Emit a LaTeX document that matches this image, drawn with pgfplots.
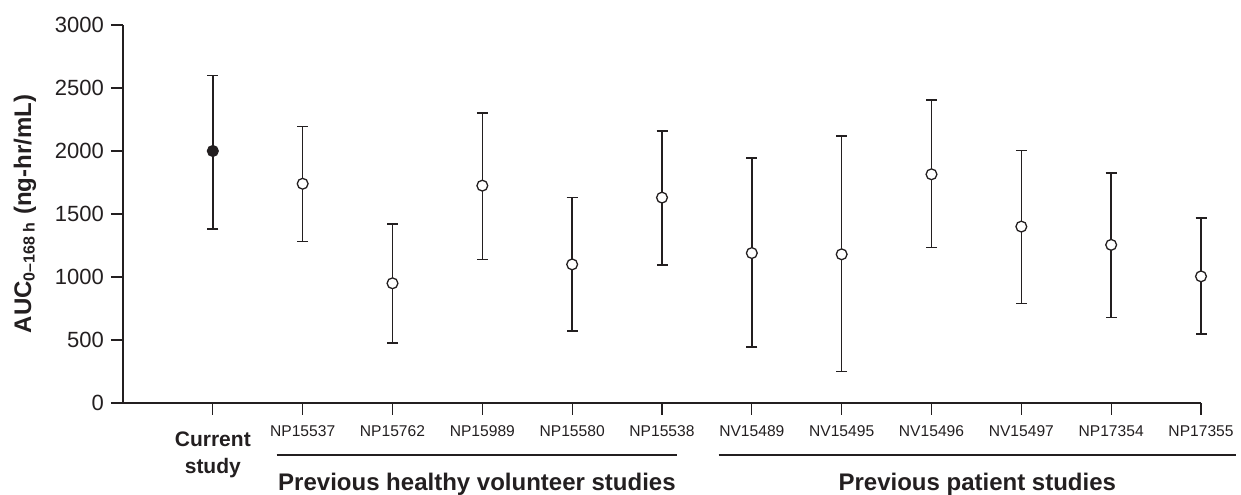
\documentclass[border=0pt]{standalone}
\usepackage{fontspec}
\setmainfont{Liberation Sans}
\usepackage{pgfplots}
\pgfplotsset{compat=1.18}
\usepackage{pgfplotstable}
\definecolor{ink}{HTML}{231F20}
\newcommand{\cur}{\bfseries\fontsize{10.5}{13}\selectfont}

% x, mean, upper, lower
\pgfplotstableread{
x y hi lo
0 2000 2600 1380
}\current
\pgfplotstableread{
x y hi lo
1 1740 2195 1280
2 950 1420 475
3 1725 2300 1140
4 1100 1630 570
5 1630 2160 1095
6 1190 1945 445
7 1180 2120 250
8 1815 2405 1235
9 1400 2005 790
10 1255 1825 677
11 1005 1467 547
}\previous

\begin{document}
\begin{tikzpicture}
\begin{axis}[
  name=ax,
  width=539pt, height=189pt,
  scale only axis,
  clip=false,
  axis lines*=left,
  axis line style={ink, line width=0.65pt},
  every tick/.style={ink, line width=0.65pt},
  tick align=outside,
  xmin=-1, xmax=11,
  ymin=0, ymax=3000,
  ytick={0,500,...,3000},
  xtick={0,...,11},
  xticklabels={{\cur\rule{0pt}{10pt}Current\\[4.5pt]\cur study},
    NP15537, NP15762, NP15989, NP15580, NP15538,
    NV15489, NV15495, NV15496, NV15497, NP17354, NP17355},
  x tick label style={font=\fontsize{7.8}{9}\selectfont, align=center, text=ink, yshift=-2pt},
  y tick label style={font=\fontsize{11}{12}\selectfont, text=ink},
  major tick length=6pt,
  /pgf/number format/assume math mode=true,
  /pgf/number format/1000 sep={},
  every axis y label/.style={at={(axis description cs:0,0.5)}, xshift=-49pt,
    rotate=90, anchor=center, font=\bfseries\fontsize{12}{14}\selectfont, text=ink},
  ylabel={AUC\textsubscript{0–168 h} (ng-hr/mL)},
  error bars/error bar style={ink, line width=0.7pt},
  error bars/error mark options={rotate=90, mark size=2.75pt, ink, line width=0.7pt},
]
\addplot[only marks, mark=*, mark size=2.7pt, mark options={draw=ink, fill=ink, line width=0.65pt},
  error bars/.cd, y dir=both, y explicit]
  table[x=x, y=y, y error plus expr=\thisrow{hi}-\thisrow{y}, y error minus expr=\thisrow{y}-\thisrow{lo}] {\current};
\addplot[only marks, mark=*, mark size=2.7pt, mark options={draw=ink, fill=white, line width=0.65pt},
  error bars/.cd, y dir=both, y explicit]
  table[x=x, y=y, y error plus expr=\thisrow{hi}-\thisrow{y}, y error minus expr=\thisrow{y}-\thisrow{lo}] {\previous};

\draw[ink, line width=0.65pt] ([yshift=-26pt]axis cs:0.71,0) -- ([yshift=-26pt]axis cs:5.17,0);
\draw[ink, line width=0.65pt] ([yshift=-26pt]axis cs:5.63,0) -- ([yshift=-26pt]axis cs:11.39,0);
\node[anchor=base, text=ink, font=\bfseries\fontsize{12}{14}\selectfont]
  at ([yshift=-44pt]axis cs:2.94,0) {Previous healthy volunteer studies};
\node[anchor=base, text=ink, font=\bfseries\fontsize{12}{14}\selectfont]
  at ([yshift=-44pt]axis cs:8.51,0) {Previous patient studies};
\end{axis}
\pgfresetboundingbox
\path[use as bounding box] ([shift={(-61.5pt,-46pt)}]ax.south west) rectangle ([shift={(20pt,12.5pt)}]ax.north east);
\end{tikzpicture}
\end{document}
